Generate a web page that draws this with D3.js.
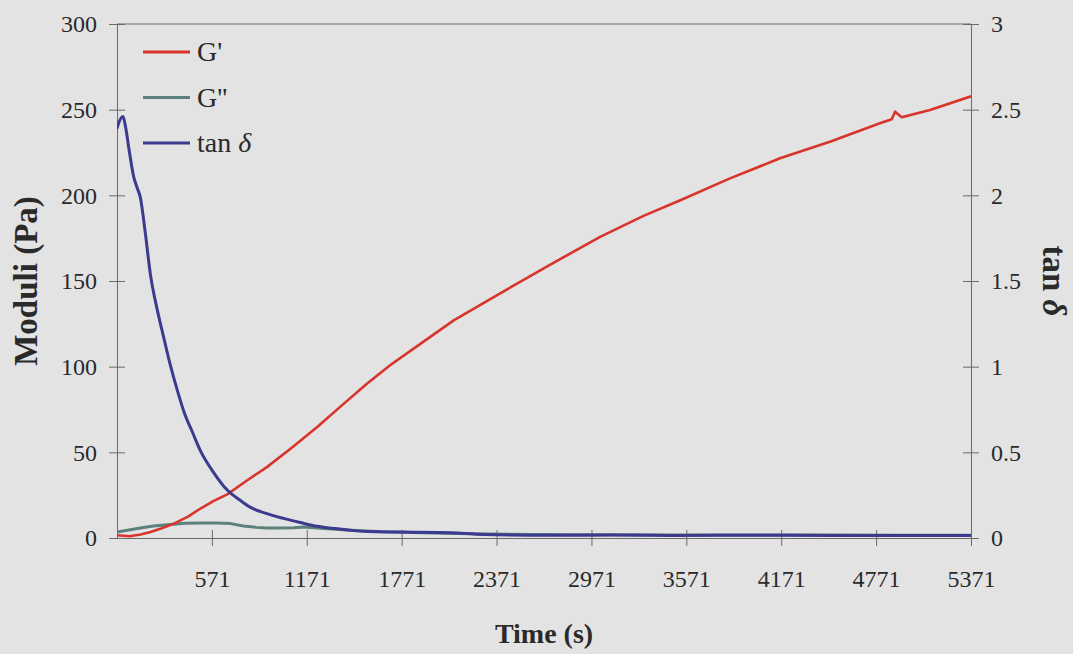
<!DOCTYPE html>
<html>
<head>
<meta charset="utf-8">
<script src="https://cdn.jsdelivr.net/npm/d3@7"></script>
<style>
  html, body { margin: 0; padding: 0; background: #e3e3e3; }
  svg { display: block; }
  text { font-family: "Liberation Serif", "Times New Roman", serif; fill: #2a2a2a; }
</style>
</head>
<body>
<svg id="chart" width="1073" height="654"></svg>
<script>
// Storage modulus G' (Pa) against time (s)
const gPrimeTime = [-29, 50, 120, 183, 250, 331, 420, 499, 580, 668, 795, 921, 1080, 1237, 1400, 1553, 1700, 1869, 2100, 2394, 2700, 3026, 3300, 3533, 3847, 4163, 4479, 4795, 4870, 4891, 4933, 5112, 5371];
const gPrime = [1.6, 1.0, 2.0, 3.5, 5.5, 8.4, 12.5, 17.2, 21.5, 25.5, 33.7, 41.5, 53, 64.8, 78, 90.2, 101, 112, 127, 142.8, 159, 175.8, 188, 197.1, 209.9, 221.6, 231.3, 242.1, 244.4, 248.8, 245.6, 249.8, 257.8];

// Loss modulus G'' (Pa) against time (s)
const gDoublePrimeTime = [-29, 100, 200, 290, 400, 500, 600, 690, 770, 850, 920, 1000, 1090, 1150, 1280, 1450, 1650, 1900, 2200, 2600, 3000, 3500, 4000, 4500, 5000, 5371];
const gDoublePrime = [3.5, 5.5, 7.0, 7.8, 8.6, 8.8, 8.8, 8.4, 7.0, 6.2, 5.8, 5.8, 6.0, 6.4, 5.5, 4.5, 3.6, 3.0, 2.5, 2.1, 1.9, 1.8, 1.7, 1.7, 1.6, 1.6];

// Loss tangent tan δ against time (s), right-hand axis
const tanDeltaTime = [-29, -15, 9, 23, 50, 76, 100, 118, 150, 182, 226, 264, 308, 353, 397, 447, 498, 580, 668, 750, 813, 909, 1029, 1130, 1237, 1340, 1448, 1553, 1764, 2080, 2291, 2691, 3100, 3500, 4000, 4500, 5000, 5371];
const tanDelta = [2.39, 2.43, 2.46, 2.41, 2.25, 2.11, 2.04, 1.99, 1.78, 1.54, 1.33, 1.18, 1.01, 0.86, 0.73, 0.62, 0.51, 0.385, 0.28, 0.22, 0.18, 0.145, 0.113, 0.09, 0.068, 0.056, 0.045, 0.038, 0.035, 0.031, 0.02, 0.016, 0.017, 0.015, 0.016, 0.015, 0.015, 0.015];

// Axis ticks
const timeTicks = [571, 1171, 1771, 2371, 2971, 3571, 4171, 4771, 5371];
const moduliTicks = [0, 50, 100, 150, 200, 250, 300];
const tanTicks = [0, 0.5, 1, 1.5, 2, 2.5, 3];

const seriesNames = ["G'", "G''", "tan δ"];
const seriesColors = ["#d8342c", "#5c807b", "#3b3a8e"];

const svg = d3.select("#chart");
const plot = { left: 117, right: 971, top: 24, bottom: 538 };

const x = d3.scaleLinear().domain([-29, 5371]).range([plot.left, plot.right]);
const yLeft = d3.scaleLinear().domain([0, 300]).range([plot.bottom, plot.top]);
const yRight = d3.scaleLinear().domain([0, 3]).range([plot.bottom, plot.top]);

const axisColor = "#6a6a6a";

// top frame line of the plot area
svg.append("line")
  .attr("x1", plot.left).attr("x2", plot.right)
  .attr("y1", plot.top).attr("y2", plot.top)
  .attr("stroke", axisColor).attr("stroke-width", 1);

function styleAxis(g) {
  g.select(".domain").attr("stroke", axisColor).attr("stroke-width", 1);
  g.selectAll(".tick line").attr("stroke", axisColor).attr("stroke-width", 1);
  g.selectAll(".tick text")
    .attr("font-family", "Liberation Serif, serif")
    .attr("font-size", 24)
    .attr("fill", "#2a2a2a");
}

// left axis: ticks crossing the axis line
const gLeft = svg.append("g")
  .attr("transform", `translate(${plot.left},0)`)
  .call(d3.axisLeft(yLeft).tickValues(moduliTicks).tickSize(8).tickSizeOuter(0).tickPadding(12));
gLeft.selectAll(".tick line").attr("x2", 8).attr("x1", -8);
styleAxis(gLeft);

// right axis
const gRight = svg.append("g")
  .attr("transform", `translate(${plot.right},0)`)
  .call(d3.axisRight(yRight).tickValues(tanTicks).tickSize(8).tickSizeOuter(0).tickPadding(12)
    .tickFormat(d3.format("")));
gRight.selectAll(".tick line").attr("x1", -8).attr("x2", 8);
styleAxis(gRight);

// bottom axis
const gBottom = svg.append("g")
  .attr("transform", `translate(0,${plot.bottom})`)
  .call(d3.axisBottom(x).tickValues(timeTicks).tickSize(8).tickSizeOuter(0).tickPadding(24)
    .tickFormat(d3.format("d")));
gBottom.selectAll(".tick line").attr("y1", -8).attr("y2", 8);
styleAxis(gBottom);

// series lines
const lineLeft = d3.line().x(d => x(d[0])).y(d => yLeft(d[1]));
const lineRight = d3.line().x(d => x(d[0])).y(d => yRight(d[1])).curve(d3.curveMonotoneX);

svg.append("defs").append("clipPath").attr("id", "plotClip")
  .append("rect").attr("x", plot.left).attr("y", plot.top - 5)
  .attr("width", plot.right - plot.left).attr("height", plot.bottom - plot.top + 5);

const lines = svg.append("g").attr("clip-path", "url(#plotClip)");

lines.append("path")
  .datum(d3.zip(gDoublePrimeTime, gDoublePrime))
  .attr("d", lineLeft)
  .attr("fill", "none").attr("stroke", seriesColors[1]).attr("stroke-width", 3)
  .attr("stroke-linejoin", "round");

lines.append("path")
  .datum(d3.zip(gPrimeTime, gPrime))
  .attr("d", lineLeft)
  .attr("fill", "none").attr("stroke", seriesColors[0]).attr("stroke-width", 2.6)
  .attr("stroke-linejoin", "round");

lines.append("path")
  .datum(d3.zip(tanDeltaTime, tanDelta))
  .attr("d", lineRight)
  .attr("fill", "none").attr("stroke", seriesColors[2]).attr("stroke-width", 3)
  .attr("stroke-linejoin", "round");

// legend
const legend = svg.append("g").attr("transform", "translate(143,52)");
seriesNames.forEach((name, i) => {
  const row = legend.append("g").attr("transform", `translate(0,${i * 45.5})`);
  row.append("line").attr("x1", 0).attr("x2", 47).attr("y1", 0).attr("y2", 0)
    .attr("stroke", seriesColors[i]).attr("stroke-width", 3);
  const t = row.append("text").attr("x", 54).attr("y", 9).attr("font-size", 28);
  if (name === "tan δ") {
    t.append("tspan").text("tan ");
    t.append("tspan").attr("font-style", "italic").text("δ");
  } else {
    t.text(name);
  }
});

// axis titles
svg.append("text")
  .attr("transform", `translate(37,${(plot.top + plot.bottom) / 2}) rotate(-90)`)
  .attr("text-anchor", "middle")
  .attr("font-weight", "bold").attr("font-size", 33)
  .text("Moduli (Pa)");

const rt = svg.append("text")
  .attr("transform", `translate(1043,${(plot.top + plot.bottom) / 2}) rotate(90)`)
  .attr("text-anchor", "middle")
  .attr("font-weight", "bold").attr("font-size", 33);
rt.append("tspan").text("tan ");
rt.append("tspan").attr("font-style", "italic").text("δ");

svg.append("text")
  .attr("x", (plot.left + plot.right) / 2).attr("y", 643)
  .attr("text-anchor", "middle")
  .attr("font-weight", "bold").attr("font-size", 28)
  .text("Time (s)");
</script>
</body>
</html>
